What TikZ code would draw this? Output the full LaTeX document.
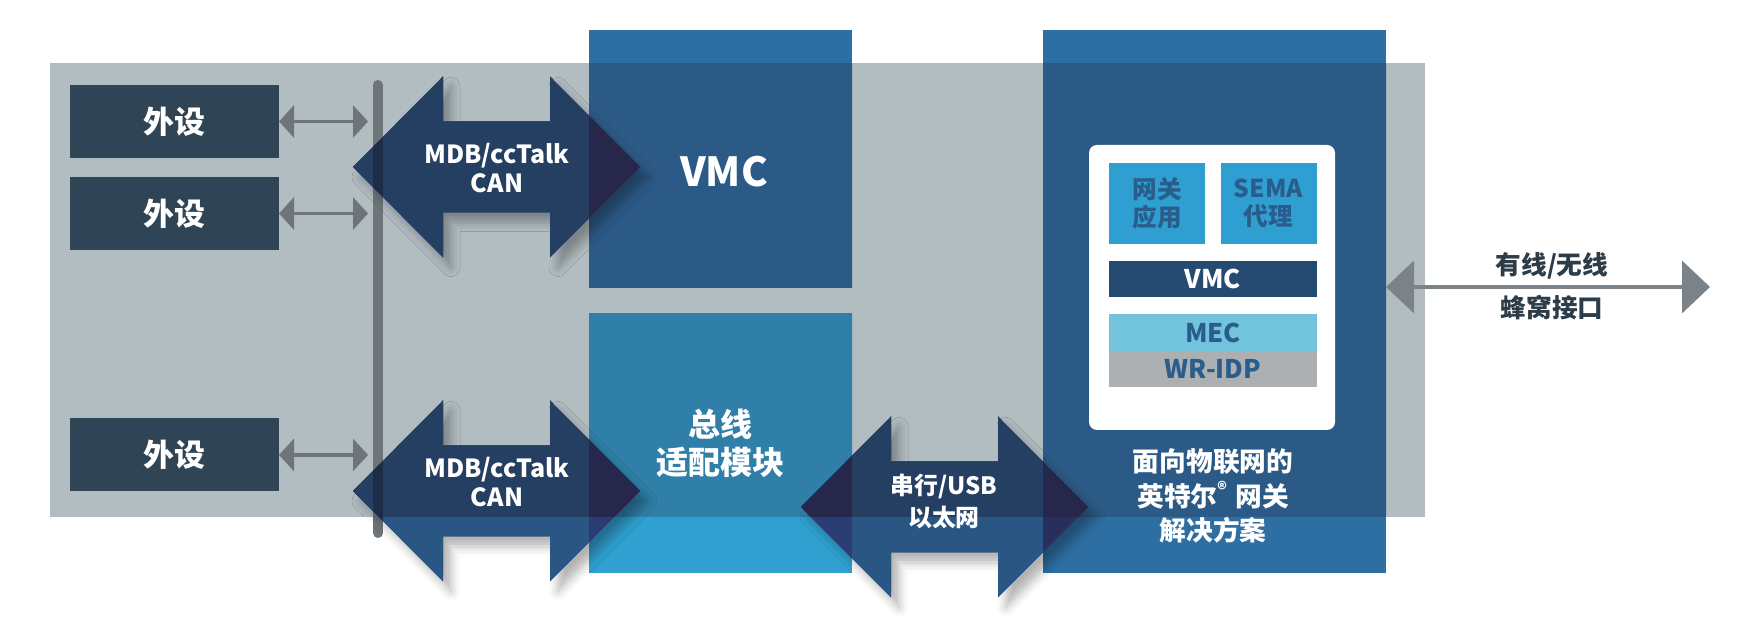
\documentclass[tikz,border=0pt]{standalone}
\usepackage{fontspec}
\setmainfont{Noto Sans CJK SC}
\usetikzlibrary{arrows.meta,shadows.blur}

\definecolor{bggray}{HTML}{B2BDC1}
\definecolor{periphc}{HTML}{2F4555}
\definecolor{linegray}{HTML}{6E7579}
\definecolor{wangray}{HTML}{7B8288}
\definecolor{blueout}{HTML}{2E6FA3}
\definecolor{bluein}{HTML}{2C5A86}
\definecolor{cyanin}{HTML}{2F7FA9}
\definecolor{cyanout}{HTML}{30A0D0}
\definecolor{arrgrayc}{HTML}{243F61}
\definecolor{arrwhitec}{HTML}{2A5684}
\definecolor{arrblockc}{HTML}{26274A}
\definecolor{arrbluec}{HTML}{2A2E5C}
\definecolor{arrcyanc}{HTML}{2A3C72}
\definecolor{arrbusc}{HTML}{1E2D47}
\definecolor{appc}{HTML}{2F9FD2}
\definecolor{apptext}{HTML}{2A5D8C}
\definecolor{vmcbarc}{HTML}{264B73}
\definecolor{mecc}{HTML}{72C3DC}
\definecolor{wrc}{HTML}{ADB0B2}
\definecolor{darktext}{HTML}{2C3C48}

% 大箭头轮廓（相对中心）
\newcommand{\arrowshape}{(-143.5,0) -- (-53.5,-90.5) -- (-53.5,-45.5) -- (53.5,-45.5)
  -- (53.5,-90.5) -- (143.5,0) -- (53.5,90.5) -- (53.5,45.5) -- (-53.5,45.5)
  -- (-53.5,90.5) -- cycle}

\tikzset{
  bgbox/.style={fill=bggray, minimum width=137.5mm, minimum height=45.4mm},
  blockdark/.style={fill=blueout, minimum width=26.3mm, minimum height=25.8mm,
    path picture={\fill[bluein] (bg.north west) rectangle (bg.south east);}},
  blocklight/.style={fill=cyanout, minimum width=26.3mm, minimum height=25.9mm,
    path picture={\fill[cyanin] (bg.north west) rectangle (bg.south east);}},
  periph/.style={fill=periphc, minimum width=20.9mm, minimum height=7.3mm,
    text=white, font=\bfseries\fontsize{8.8}{10}\selectfont},
  busline/.style={draw=linegray, line width=1mm, line cap=round},
  smallarr/.style={{Triangle[length=1.5mm,width=3.2mm]}-{Triangle[length=1.5mm,width=3.2mm]},
    draw=linegray, line width=0.33mm, shorten >=1mm},
  arrshadow/.style={blur shadow={shadow xshift=0.8mm, shadow yshift=-1mm,
    shadow blur radius=0.9mm, shadow opacity=30}},
  arrtext/.style={align=center, text=white, font=\bfseries\fontsize{7.1}{8.25}\selectfont},
  bigtext/.style={text=white, font=\bfseries\fontsize{11.4}{13}\selectfont},
  whitebox/.style={fill=white, rounded corners=0.8mm, minimum width=24.6mm, minimum height=28.5mm},
  appbox/.style={fill=appc, minimum width=9.6mm, minimum height=8.1mm, align=center,
    text=apptext, font=\bfseries\fontsize{7}{8}\selectfont},
  layer/.style={minimum width=20.8mm, minimum height=3.65mm, text=apptext,
    font=\bfseries\fontsize{7.3}{9}\selectfont},
  captext/.style={align=center, text=white, font=\bfseries\fontsize{7.6}{9.7}\selectfont},
  wanarr/.style={{Triangle[length=2.8mm,width=5.2mm]}-{Triangle[length=2.8mm,width=5.2mm]},
    draw=wangray, line width=0.4mm},
  wantext/.style={text=darktext, font=\bfseries\fontsize{7.3}{8}\selectfont},
  bigarrow/.pic={
    \fill[arrgrayc, arrshadow] \arrowshape;
    \begin{scope}
      \clip \arrowshape;
      \fill[arrwhitec] (-200,-200) rectangle (200,200);
      \fill[arrgrayc] (bg.north west) rectangle (bg.south east);
      \draw[arrbusc, line width=1mm, line cap=round] (busT) -- (busB);
      \fill[arrcyanc] (adapter.north west) rectangle (adapter.south east);
      \fill[arrbluec] (gw.north west) rectangle (gw.south east);
      \clip (bg.north west) rectangle (bg.south east);
      \fill[arrblockc] (vmc.north west) rectangle (vmc.south east)
        (adapter.north west) rectangle (adapter.south east)
        (gw.north west) rectangle (gw.south east);
    \end{scope}
  }
}

\begin{document}
\begin{tikzpicture}[x=0.1mm, y=-0.1mm, every node/.style={inner sep=0pt, outer sep=0pt}]
  \useasboundingbox (0,0) rectangle (1750,630);

  % 灰色底板
  \node[bgbox] (bg) at (737.5,290) {};

  % 三个大方块
  \node[blockdark] (vmc) at (720.5,159) {};
  \node[blocklight, align=center, text=white, font=\bfseries\fontsize{9.1}{10.8}\selectfont]
    (adapter) at (720.5,443.5) {总线\\适配模块};
  \node[blockdark, minimum width=34.3mm, minimum height=54.3mm] (gw) at (1214.5,301.5) {};

  % 总线
  \coordinate (busT) at (378,85);
  \coordinate (busB) at (378,533);
  \draw[busline] (busT) -- (busB);

  % 外设
  \node[periph] (p1) at (174.5,121.5) {外设};
  \node[periph] (p2) at (174.5,213.5) {外设};
  \node[periph] (p3) at (174.5,455) {外设};
  \draw[smallarr] (p1.east) -- (p1.east -| busT);
  \draw[smallarr] (p2.east) -- (p2.east -| busT);
  \draw[smallarr] (p3.east) -- (p3.east -| busT);

  % 大箭头
  \pic at (496.5,167) {bigarrow};
  \pic at (496.5,491) {bigarrow};
  \pic at (944.5,507) {bigarrow};
  \node[arrtext] (bus1) at (497,168) {MDB/ccTalk\\CAN};
  \node[arrtext] (bus2) at (497,482) {MDB/ccTalk\\CAN};
  \node[arrtext, font=\bfseries\fontsize{6.8}{9.1}\selectfont] (link) at (944,501) {串行/USB\\以太网};

  \node[bigtext] (vmctxt) at (724,172) {VMC};

  % 网关内部
  \node[whitebox] (stack) at (1212,287.5) {};
  \node[appbox] (app) at (1157,203.5) {网关\\应用};
  \node[appbox] (sema) at (1268.5,203.5) {SEMA\\代理};
  \node[layer, fill=vmcbarc, text=white] (vmcbar) at (1213,279) {VMC};
  \node[layer, fill=mecc] (mec) at (1213,332.5) {MEC};
  \node[layer, fill=wrc] (wr) at (1213,369) {WR-IDP};
  \node[captext] (gwtxt) at (1213,496) {面向物联网的\\英特尔\textsuperscript{®} 网关\\解决方案};

  % 外部接口
  \coordinate (wan) at (1710,287);
  \draw[wanarr] (wan -| gw.east) -- (wan);
  \node[wantext] (wl1) at (1552,266) {有线/无线};
  \node[wantext] (wl2) at (1552,308) {蜂窝接口};
\end{tikzpicture}
\end{document}
